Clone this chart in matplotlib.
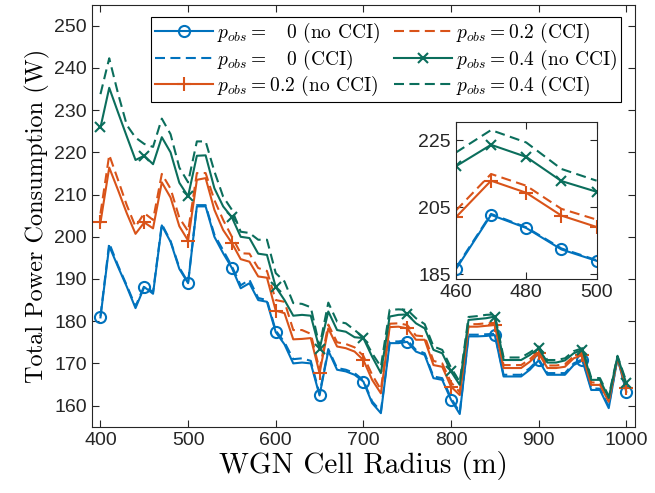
import matplotlib

matplotlib.use("Agg")

import matplotlib.pyplot as plt
import numpy as np

plt.rcParams["mathtext.fontset"] = "cm"
plt.rcParams["axes.unicode_minus"] = False

radius = np.arange(400, 1001, 10)

p0_no_cci = [
    180.9, 197.8, 192.9, 188.2, 183.1, 188.1, 186.5, 202.7, 198.8, 192.4,
    189.0, 207.2, 207.2, 200.0, 196.1, 192.6, 187.8, 189.0, 185.0, 184.6,
    177.4, 174.5, 170.0, 170.2, 170.0, 162.4, 173.0, 168.5, 168.1, 167.3,
    165.7, 160.6, 158.2, 174.8, 174.8, 175.1, 172.8, 172.0, 166.5, 166.1,
    161.4, 158.0, 176.4, 176.4, 176.5, 176.7, 166.9, 166.9, 166.9, 168.5,
    170.7, 167.3, 167.3, 167.3, 169.6, 170.7, 163.7, 163.7, 159.4, 171.2,
    163.3,
]
p0_cci = [
    181.2, 198.5, 193.2, 188.5, 183.5, 188.4, 186.9, 203.0, 199.0, 192.7,
    189.2, 207.5, 207.5, 200.5, 196.8, 193.0, 188.5, 189.8, 185.5, 185.0,
    177.8, 175.0, 171.0, 171.2, 170.6, 162.8, 173.4, 168.9, 168.5, 167.7,
    166.0, 161.0, 158.6, 175.2, 175.2, 175.5, 173.2, 172.4, 166.9, 166.5,
    161.8, 158.4, 176.8, 176.8, 176.9, 177.0, 167.3, 167.3, 167.3, 168.9,
    171.0, 167.7, 167.7, 167.7, 170.0, 171.0, 164.1, 164.0, 159.8, 171.4,
    163.6,
]
p2_no_cci = [
    203.4, 216.4, 211.1, 205.6, 200.7, 203.4, 202.0, 212.9, 209.3, 202.5,
    199.1, 213.5, 213.9, 206.4, 201.6, 198.5, 194.7, 194.1, 190.6, 190.3,
    182.5, 181.9, 175.7, 175.8, 176.0, 167.7, 178.3, 174.0, 173.6, 172.8,
    170.8, 166.1, 162.9, 178.6, 178.7, 178.3, 175.6, 175.6, 169.6, 169.2,
    164.5, 162.5, 178.7, 178.7, 178.9, 179.1, 168.9, 168.9, 168.9, 170.4,
    172.4, 168.9, 168.9, 169.2, 171.2, 172.0, 164.9, 164.9, 160.9, 171.2,
    164.1,
]
p2_cci = [
    205.5, 219.4, 213.5, 207.5, 202.4, 205.6, 204.0, 214.9, 211.4, 204.5,
    201.3, 215.1, 215.1, 208.7, 204.0, 200.0, 196.1, 196.0, 192.6, 191.9,
    185.0, 184.6, 177.9, 177.9, 177.0, 168.5, 179.2, 175.0, 174.6, 173.8,
    171.8, 167.3, 163.8, 179.4, 179.5, 179.1, 176.6, 176.4, 170.6, 170.0,
    165.5, 163.2, 179.3, 179.3, 179.5, 179.6, 169.6, 169.6, 169.6, 171.0,
    172.9, 169.5, 169.5, 169.8, 171.7, 172.6, 165.5, 165.4, 161.3, 171.5,
    164.5,
]
p4_no_cci = [
    225.9, 235.3, 229.5, 223.8, 218.2, 219.2, 217.2, 223.6, 220.0, 212.8,
    209.6, 219.2, 219.3, 211.5, 207.2, 204.6, 200.0, 199.7, 196.0, 195.7,
    188.1, 185.0, 181.3, 181.5, 181.3, 173.4, 182.3, 177.9, 177.5, 176.2,
    176.0, 171.6, 167.7, 181.1, 181.5, 181.6, 179.5, 178.3, 173.2, 172.4,
    168.1, 164.9, 180.3, 180.5, 180.7, 181.1, 170.8, 170.8, 170.8, 172.0,
    173.6, 170.2, 170.2, 170.7, 172.4, 173.2, 166.1, 166.1, 161.8, 171.6,
    165.3,
]
p4_cci = [
    233.8, 242.3, 234.0, 226.5, 223.5, 222.0, 221.3, 228.0, 224.3, 216.4,
    212.9, 222.6, 222.6, 215.5, 209.5, 206.4, 201.2, 200.9, 199.3, 199.3,
    191.4, 189.4, 184.3, 184.1, 183.3, 174.0, 184.4, 179.9, 179.5, 177.9,
    176.2, 172.4, 169.2, 182.7, 182.8, 182.7, 180.7, 179.3, 174.0, 173.2,
    169.0, 165.6, 181.0, 181.2, 181.5, 181.6, 171.4, 171.4, 171.4, 172.6,
    174.0, 170.8, 170.8, 171.2, 172.9, 173.6, 166.6, 166.5, 162.2, 171.8,
    165.7,
]

labels = [
    r"$p_{obs} =\ \ \ 0$ (no CCI)",
    r"$p_{obs} =\ \ \ 0$ (CCI)",
    r"$p_{obs} = 0.2$ (no CCI)",
    r"$p_{obs} = 0.2$ (CCI)",
    r"$p_{obs} = 0.4$ (no CCI)",
    r"$p_{obs} = 0.4$ (CCI)",
]

BLUE = "#0072BD"
ORANGE = "#D95319"
GREEN = "#0B6E5C"
DASH = (4.8, 2.6)
TICK_FONT = "Liberation Sans"
LABEL_FONT = "cmr10"
AXIS_COLOR = "#262626"

series = [
    (p0_no_cci, BLUE, "o", "-"),
    (p0_cci, BLUE, None, "--"),
    (p2_no_cci, ORANGE, "+", "-"),
    (p2_cci, ORANGE, None, "--"),
    (p4_no_cci, GREEN, "x", "-"),
    (p4_cci, GREEN, None, "--"),
]

marker_size = {"o": 8, "+": 10, "x": 6.5}


def draw(ax, x, every):
    for values, color, marker, style in series:
        kwargs = dict(color=color, lw=1.5)
        if marker is not None:
            kwargs.update(marker=marker, markersize=marker_size[marker],
                          markevery=every, markerfacecolor="none",
                          markeredgewidth=1.5)
        line, = ax.plot(x, np.asarray(values)[np.isin(radius, x)], style, **kwargs)
        if style == "--":
            line.set_dashes(DASH)


def style_axes(ax, size):
    ax.tick_params(direction="in", top=True, right=True, length=5,
                   color=AXIS_COLOR, labelcolor=AXIS_COLOR, labelsize=size)
    for label in ax.get_xticklabels() + ax.get_yticklabels():
        label.set_fontfamily(TICK_FONT)
    for spine in ax.spines.values():
        spine.set_color(AXIS_COLOR)
        spine.set_linewidth(0.8)


fig = plt.figure(figsize=(6.55, 4.93), dpi=100)
ax = fig.add_axes([0.140, 0.1345, 0.8295, 0.856])
draw(ax, radius, 5)
ax.set_xlim(390, 1010)
ax.set_ylim(155, 255)
ax.set_xticks(np.arange(400, 1001, 100))
ax.set_yticks(np.arange(160, 251, 10))
style_axes(ax, 14)
ax.set_xlabel("WGN Cell Radius (m)", fontfamily=LABEL_FONT, fontsize=21, labelpad=2)
ax.set_ylabel("Total Power Consumption (W)", fontfamily=LABEL_FONT, fontsize=17.5, labelpad=3)

leg = ax.legend(labels, ncol=2, loc="upper right", bbox_to_anchor=(0.974, 0.970),
                prop={"family": LABEL_FONT, "size": 14}, fancybox=False,
                framealpha=1, edgecolor="black", handlelength=3.0,
                handletextpad=0.2, columnspacing=0.7, labelspacing=0.12,
                borderpad=0.2, borderaxespad=0)
leg.get_frame().set_linewidth(0.8)

inset = fig.add_axes([0.696, 0.4335, 0.2148, 0.3197])
inset_x = radius[(radius >= 460) & (radius <= 500)]
draw(inset, inset_x, 1)
inset.set_xlim(460, 500)
inset.set_ylim(183.5, 230.5)
inset.set_xticks([460, 480, 500])
inset.set_yticks([185, 205, 225])
style_axes(inset, 14)

fig.savefig("out.png", dpi=100)
